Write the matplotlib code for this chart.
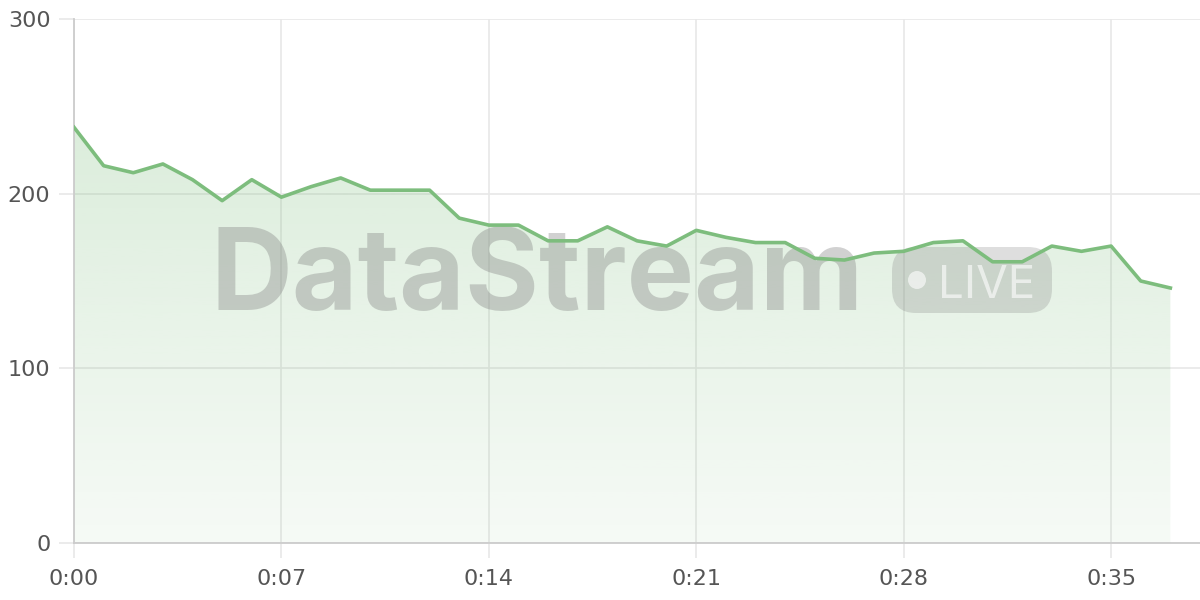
import matplotlib
matplotlib.use("Agg")
import matplotlib.pyplot as plt
import numpy as np
from matplotlib.patches import FancyBboxPatch, Circle
from matplotlib.transforms import IdentityTransform

minutes = list(range(38))
values = [238, 216, 212, 217, 208, 196, 208, 198, 204, 209,
          202, 202, 202, 186, 182, 182, 173, 173, 181, 173,
          170, 179, 175, 172, 172, 163, 162, 166, 167, 172,
          173, 161, 161, 170, 167, 170, 150, 146]
x_ticks = [0, 7, 14, 21, 28, 35]
x_tick_labels = ["0:00", "0:07", "0:14", "0:21", "0:28", "0:35"]
y_ticks = [0, 100, 200, 300]
y_tick_labels = ["0", "100", "200", "300"]

LINE = "#7dbd7d"
GRID = "#e8e8e8"
SPINE = "#cccccc"
TXT = "#555555"

plt.rcParams['font.family'] = ['DejaVu Sans']

fig = plt.figure(figsize=(12, 6), dpi=100)
ax = fig.add_axes([74/1200, 57/600, 1126/1200, 524/600])
ax.set_xlim(0, 38)
ax.set_ylim(0, 300)

# gradient fill
poly = ax.fill_between(minutes, values, 0, color='none', lw=0)
ymax = max(values)
grad = np.linspace(0.07, 0.27, 256).reshape(-1, 1)
rgba = np.zeros((256, 1, 4))
rgba[..., 0] = 0x7d / 255
rgba[..., 1] = 0xbd / 255
rgba[..., 2] = 0x7d / 255
rgba[..., 3] = grad
img = ax.imshow(rgba, extent=[minutes[0], minutes[-1], 0, ymax], origin='lower',
                aspect='auto', zorder=1, interpolation='bilinear')
path = poly.get_paths()[0]
img.set_clip_path(path, transform=ax.transData)
ax.set_xlim(0, 38)
ax.set_ylim(0, 300)

ax.plot(minutes, values, color=LINE, lw=2.6, zorder=4, solid_joinstyle='round')

# grid
ax.set_xticks(x_ticks)
ax.set_xticklabels(x_tick_labels)
ax.set_yticks(y_ticks)
ax.set_yticklabels(y_tick_labels)
ax.grid(True, color=GRID, lw=1.2, zorder=0)
ax.set_axisbelow(True)
ax.tick_params(axis='both', length=11, width=1.2, color=GRID, labelcolor=TXT,
               labelsize=16)
ax.tick_params(axis='x', pad=8)
ax.tick_params(axis='y', pad=6)
for s in ['top', 'right']:
    ax.spines[s].set_visible(False)
for s in ['left', 'bottom']:
    ax.spines[s].set_color(SPINE)
    ax.spines[s].set_linewidth(1.3)

# watermark (beneath the line)
ax.text(210, 290, "DataStream", fontsize=81.5, fontweight='bold',
        family=['Inter', 'DejaVu Sans'], color='#808080', alpha=0.36,
        ha='left', va='baseline', zorder=3, transform=IdentityTransform(),
        clip_on=False)
badge = FancyBboxPatch((892, 287), 160, 66, boxstyle="round,pad=0,rounding_size=24",
                       transform=IdentityTransform(), facecolor='#808080',
                       edgecolor='none', alpha=0.26, zorder=3, clip_on=False)
ax.add_artist(badge)
dot = Circle((917, 320), 9, transform=IdentityTransform(), facecolor='white',
             edgecolor='none', alpha=0.6, zorder=3.1, clip_on=False)
ax.add_artist(dot)
ax.text(938, 302, "LIVE", fontsize=33,
        family=['Inter', 'DejaVu Sans'], color='white', alpha=0.6,
        ha='left', va='baseline', zorder=3.1, transform=IdentityTransform(),
        clip_on=False)

fig.savefig("out.png", dpi=100)
